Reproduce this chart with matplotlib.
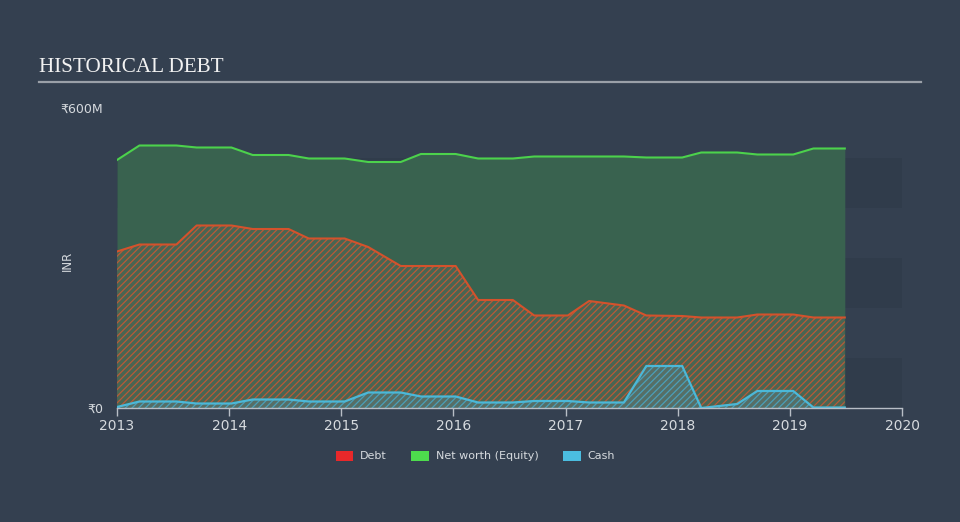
import numpy as np
import matplotlib
matplotlib.use("Agg")
import matplotlib.pyplot as plt
from matplotlib.patches import Patch

# quarterly-ish points (years, INR millions)
dates = [2013.0, 2013.2, 2013.53, 2013.71, 2014.02, 2014.21, 2014.53, 2014.71, 2015.03,
         2015.24, 2015.53, 2015.71, 2016.02, 2016.22, 2016.53, 2016.72, 2017.02, 2017.21,
         2017.52, 2017.72, 2018.04, 2018.21, 2018.53, 2018.71, 2019.03, 2019.21, 2019.49]
equity = [496, 525, 525, 521, 521, 506, 506, 499, 499, 492, 492, 508, 508, 499, 499, 503,
          503, 503, 503, 501, 501, 511, 511, 507, 507, 519, 519]
debt = [313, 327, 327, 365, 365, 358, 358, 339, 339, 322, 284, 284, 284, 216, 216, 185,
        185, 214, 205, 185, 184, 181, 181, 187, 187, 181, 181]
cash = [2, 13, 13, 9, 9, 17, 17, 13, 13, 31, 31, 23, 23, 11, 11, 14, 14, 11, 11, 84, 84,
        0, 8, 34, 34, 1, 1]

year_ticks = [2013, 2014, 2015, 2016, 2017, 2018, 2019, 2020]
bands = [(0, 100), (200, 300), (400, 500)]

BG = "#344050"
GREEN = "#4cd24c"
RED = "#d4522c"
BLUE = "#4bb8d8"
TXT = "#d6dade"

plt.rcParams["hatch.linewidth"] = 0.9

fig = plt.figure(figsize=(9.6, 5.22), dpi=100, facecolor=BG)
ax = fig.add_axes([117 / 960, 1 - 408 / 522, 785 / 960, 300 / 522])
ax.set_facecolor(BG)

for lo, hi in bands:
    ax.axhspan(lo, hi, color="#303c4b", lw=0, zorder=0)

x = np.array(dates)
ax.fill_between(x, 0, equity, color="#39624f", lw=0, zorder=1)
ax.plot(x, equity, color=GREEN, lw=1.5, zorder=5, solid_joinstyle="round")

ax.fill_between(x, 0, debt, facecolor="#4a6552", edgecolor="#b85a38", hatch="/////",
                lw=0, zorder=2)
ax.plot(x, debt, color=RED, lw=1.5, zorder=5, solid_joinstyle="round")

ax.fill_between(x, 0, cash, facecolor="#566e66", edgecolor="#4a9fb8", hatch="/////",
                lw=0, zorder=3)
ax.plot(x, cash, color=BLUE, lw=1.6, zorder=5, solid_joinstyle="round")

ax.set_xlim(2013, 2020)
ax.set_ylim(0, 600)
ax.set_xticks(year_ticks)
ax.set_xticklabels([str(y) for y in year_ticks])
ax.set_yticks([0, 600])
ax.set_yticklabels(["₹0", "₹600M"])
ax.tick_params(axis="x", colors="#b8bec6", labelcolor=TXT, labelsize=10,
               length=6, width=1, direction="out", pad=2)
ax.tick_params(axis="y", length=0, labelcolor=TXT, labelsize=9, pad=10)
for s in ["top", "right", "left"]:
    ax.spines[s].set_visible(False)
ax.spines["bottom"].set_color("#b8bec6")
ax.spines["bottom"].set_linewidth(1)
ax.spines["bottom"].set_zorder(6)

ax.set_ylabel("INR", color=TXT, fontsize=8.5)
ax.yaxis.set_label_coords(-43 / 785, 0.49)

fig.text(39 / 960, 1 - 67 / 522, "HISTORICAL DEBT", family="Liberation Serif",
         fontsize=15.2, color="#f2f2f2", va="center", ha="left")
fig.add_artist(plt.Line2D([39 / 960, 921 / 960], [1 - 82 / 522, 1 - 82 / 522],
                          color="#9aa0a8", lw=1.6))

handles = [Patch(facecolor="#e8282a", label="Debt"),
           Patch(facecolor="#4ddc4d", label="Net worth (Equity)"),
           Patch(facecolor="#4bbde0", label="Cash")]
fig.legend(handles=handles, loc="center", bbox_to_anchor=(0.495, 1 - 456 / 522),
           ncol=3, frameon=False, fontsize=8, labelcolor=TXT, handlelength=1.6,
           handleheight=1.0, columnspacing=2.2, handletextpad=0.6)

fig.savefig("out.png", dpi=100, facecolor=BG)
